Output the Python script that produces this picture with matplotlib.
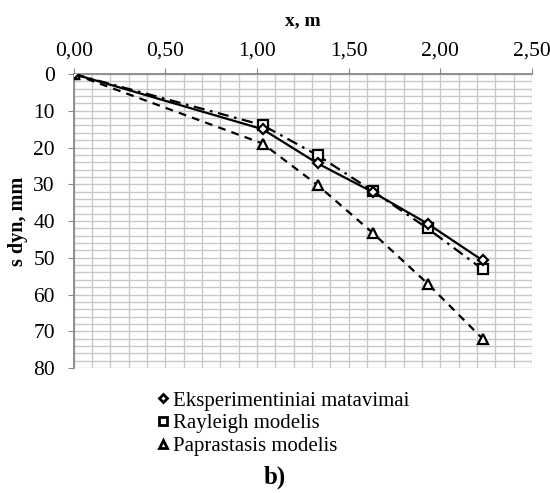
import numpy as np
import matplotlib.pyplot as plt
from matplotlib.lines import Line2D
from matplotlib.ticker import MultipleLocator, FuncFormatter

plt.rcParams['font.family'] = ['Liberation Serif', 'DejaVu Serif']

# atstumai ir ilinkiai
x = [0.00, 1.03, 1.33, 1.63, 1.93, 2.23]
s_eksp = [0.0, 15.0, 24.3, 32.1, 40.7, 50.7]
s_rayleigh = [0.0, 13.9, 22.1, 31.8, 42.0, 53.1]
s_papr = [0.0, 18.9, 30.2, 43.2, 57.0, 72.0]

labels = ['Eksperimentiniai matavimai', 'Rayleigh modelis', 'Paprastasis modelis']

fig = plt.figure(figsize=(5.5, 4.93), dpi=100)
ax = fig.add_axes([0.134, 0.2535, 0.8333, 0.5963])

mk = dict(markerfacecolor='white', markeredgecolor='black', markeredgewidth=1.6, color='black')
ax.plot(x, s_eksp, '-', lw=1.6, marker='D', markersize=5.5, zorder=5, **mk)
ax.plot(x, s_rayleigh, linestyle=(0, (5, 2.5, 1.2, 2.5)), lw=1.6, marker='s', markersize=6.5, zorder=4, **mk)
ax.plot(x, s_papr, linestyle=(0, (3.5, 2.8)), lw=1.6, marker='^', markersize=7, zorder=3, **mk)

ax.set_xlim(0, 2.5)
ax.set_ylim(80, 0)
ax.xaxis.set_major_locator(MultipleLocator(0.5))
ax.xaxis.set_minor_locator(MultipleLocator(0.1))
ax.yaxis.set_major_locator(MultipleLocator(10))
ax.yaxis.set_minor_locator(MultipleLocator(2))
ax.xaxis.set_major_formatter(FuncFormatter(lambda v, p: f'{v:.2f}'.replace('.', ',')))
ax.xaxis.tick_top()
ax.xaxis.set_label_position('top')

ax.grid(which='both', color='#c8c8c8', lw=1.0)
ax.set_axisbelow(True)
for side in ['bottom', 'right']:
    ax.spines[side].set_visible(False)
for side in ['top', 'left']:
    ax.spines[side].set_color('#888888')
    ax.spines[side].set_linewidth(1.3)
ax.tick_params(which='major', direction='out', length=4.5, color='#888888', labelsize=15.5)
ax.tick_params(axis='x', pad=5)
ax.tick_params(axis='y', pad=9)
ax.tick_params(which='minor', length=0)

ax.set_xlabel('x, m', fontsize=14, fontweight='bold', labelpad=12)
ax.set_ylabel('s dyn, mm', fontsize=14.5, fontweight='bold', labelpad=4)

handles = [Line2D([], [], linestyle='none', marker=m, markersize=s, markerfacecolor='white',
                  markeredgecolor='black', markeredgewidth=2)
           for m, s in [('D', 4.5), ('s', 6), ('^', 5.5)]]
fig.legend(handles, labels, loc='upper left', bbox_to_anchor=(0.266, 0.228), frameon=False,
           fontsize=15, handlelength=0.6, handletextpad=0.2, labelspacing=0.15, borderpad=0)

fig.text(0.5, 0.032, 'b)', ha='center', va='center', fontsize=18, fontweight='bold')

fig.savefig('out.png', dpi=100)
